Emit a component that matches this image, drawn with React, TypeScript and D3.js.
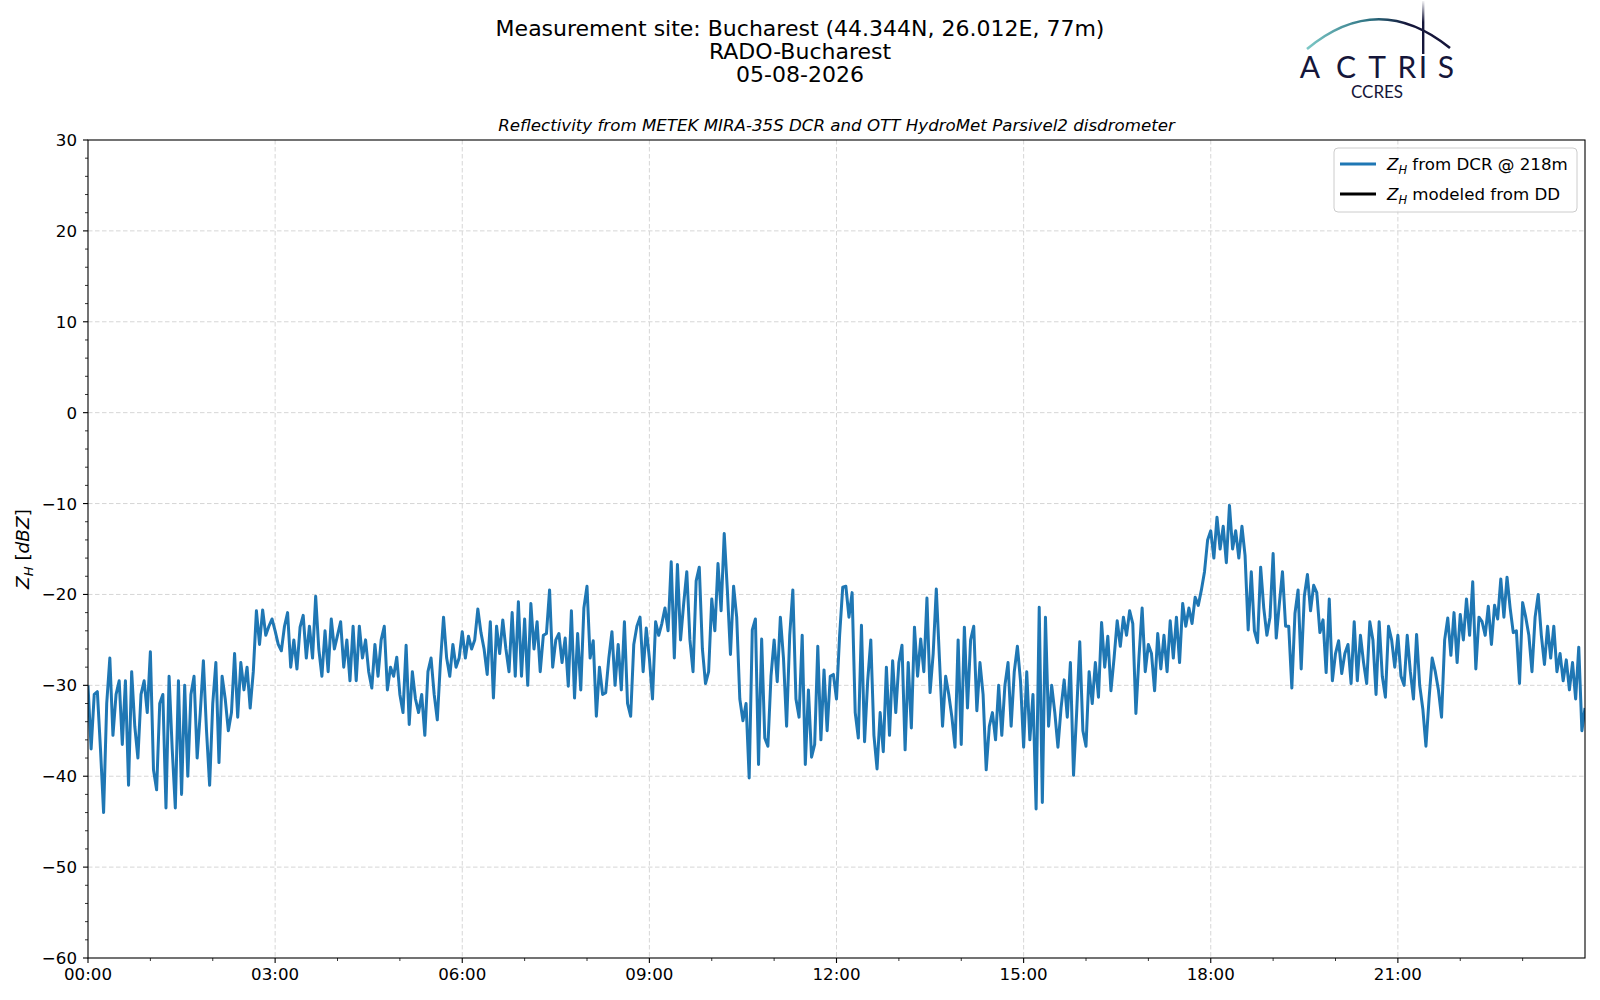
import * as d3 from "d3";

// measurement day (UTC) and sampling step of the DCR series
const day = Date.UTC(2026, 7, 5);
const stepMinutes = 3;

// Z_H from DCR @ 218m, dBZ, one value every 3 minutes
const zh00 = [
  -30, -37, -31, -30.7, -37, -44, -32, -27, -35.5, -31,
  -29.5, -36.5, -29.5, -41, -28.5, -34.5, -38, -31, -29.5, -33,
  -26.3, -39.3, -41.5, -32, -31, -43.5, -29, -37, -43.5, -29.5,
  -42, -30, -40, -31, -29, -38, -33, -27.3, -35, -41,
  -32, -27.5, -38.5, -29, -31.5, -35, -33, -26.5, -33.5, -27.5,
  -30.5, -28, -32.5, -28.5, -21.8, -25.5, -21.7, -24.5, -23.5, -22.7,
];
const zh03 = [
  -24, -25.5, -26.2, -23.5, -22, -28, -25, -28.2, -23.6, -22.3,
  -27, -23.5, -27, -20.2, -26, -29, -24, -28.5, -22.7, -26,
  -24.5, -23, -28, -25, -29.5, -23.5, -29.5, -23.5, -27, -25,
  -28.5, -30.3, -25.5, -29, -25, -23.5, -30.5, -28, -29, -26.9,
  -31, -33, -25.6, -34.3, -28.5, -31.5, -33, -31, -35.5, -28.5,
  -27, -31, -33.8, -27.5, -22.5, -27, -29, -25.5, -28, -27,
];
const zh06 = [
  -24.1, -27, -24.6, -26, -25, -21.6, -24.2, -26, -28.8, -23,
  -31.4, -23.5, -26.5, -22.8, -26, -28.5, -22, -29, -20.8, -29,
  -22.7, -30, -21, -26, -23, -28.5, -24.5, -24.3, -19.5, -28,
  -25, -24.3, -27.5, -24.8, -30.1, -21.8, -31.4, -24.3, -30.5, -21.5,
  -19.1, -27, -25.1, -33.4, -28, -31, -30.8, -27, -24.1, -30,
  -25.5, -30.5, -23, -32, -33.4, -25.5, -23.5, -22.5, -28.5, -23.7,
];
const zh09 = [
  -27, -31.5, -23, -24.5, -23.2, -21.5, -24, -16.4, -27, -16.7,
  -25, -21, -17.5, -25, -28.5, -18.5, -17, -26, -29.8, -28.5,
  -20.5, -24, -16.6, -21.8, -13.3, -19.5, -26.6, -19.1, -22.5, -31.5,
  -33.9, -32, -40.2, -23.9, -22.7, -38.7, -24.9, -35.8, -36.7, -29,
  -25, -29.6, -22.5, -27, -34.5, -24.5, -19.5, -31.5, -33.5, -24.5,
  -38.7, -30.5, -37.9, -36.5, -25.7, -36, -28.3, -35, -29, -28.8,
];
const zh12 = [
  -31.5, -24.5, -19.2, -19.1, -22.5, -19.8, -33, -35.8, -23.4, -36.2,
  -29.5, -25, -35.5, -39.2, -33, -37.3, -28, -35.5, -27.3, -33,
  -27.5, -25.6, -37.1, -27.5, -34.7, -23.6, -29, -24.9, -28.5, -20.4,
  -30.8, -26.5, -19.4, -27, -34.5, -29, -31, -33.5, -36.8, -25,
  -36.5, -23.6, -32.5, -25, -23.5, -32.8, -27.5, -31, -39.3, -34.5,
  -33, -36, -30, -35.5, -30, -27.5, -34.5, -28.5, -25.7, -29.5,
];
const zh15 = [
  -36.8, -28.5, -36, -31, -43.6, -21.4, -42.9, -22.5, -34.5, -30,
  -33, -36.8, -32.5, -29.4, -33.5, -27.5, -39.9, -33, -25.2, -35,
  -36.7, -28.5, -32, -27.5, -31.3, -23.1, -28, -24.6, -30.6, -27,
  -22.9, -25.7, -22.5, -24.5, -21.8, -23.2, -33.1, -26.8, -21.5, -28.5,
  -25.5, -26.5, -30.6, -24.3, -28.2, -24.5, -28.5, -22.9, -27, -22.5,
  -27.5, -21, -23.5, -21.5, -23.2, -20.3, -21.2, -19.5, -17.5, -14,
];
const zh18 = [
  -13, -16, -11.5, -15, -12.5, -16.5, -10.2, -15, -13, -16,
  -12.5, -15.7, -23.9, -17.5, -24, -25.3, -17, -21.5, -24.5, -22.5,
  -15.5, -24.8, -21, -17.5, -23.5, -23.5, -30.3, -22.1, -19.5, -28.2,
  -20.2, -17.8, -21.8, -19, -19.8, -24.2, -22.8, -28.6, -20.5, -29.5,
  -26.5, -25.1, -28.7, -26.5, -25.5, -29.8, -23, -29.5, -24.5, -27.5,
  -29.8, -23, -25, -31, -23, -29, -31.3, -23.5, -25, -28,
];
const zh21 = [
  -24.5, -29, -30, -24.5, -28.5, -31.5, -24.4, -30, -32.6, -36.7,
  -31.5, -27, -28.5, -30.5, -33.5, -25, -22.6, -26.7, -22, -27.5,
  -22.2, -25, -20.5, -24.5, -18.6, -28.2, -22.5, -23, -24.5, -21.3,
  -25.5, -21.2, -22.7, -18.3, -22.5, -18.1, -21.5, -24.2, -24, -29.8,
  -20.9, -22.5, -24.5, -28.5, -22.5, -20, -24.5, -27.7, -23.5, -27,
  -23.5, -28.5, -26.5, -29.5, -27.2, -30.5, -27.5, -31.5, -25.8, -35,
  -32.5,
];
const zhDcr = [...zh00, ...zh03, ...zh06, ...zh09, ...zh12, ...zh15, ...zh18, ...zh21];
// no disdrometer values on this day
const zhDd: number[] = [];

const yTicks = [30, 20, 10, 0, -10, -20, -30, -40, -50, -60];
const titleLines = [
  "Measurement site: Bucharest (44.344N, 26.012E, 77m)",
  "RADO-Bucharest",
  "05-08-2026",
];
const subtitle = "Reflectivity from METEK MIRA-35S DCR and OTT HydroMet Parsivel2 disdrometer";

const W = 1600;
const H = 1000;
const margin = { top: 140, right: 15, bottom: 42, left: 88 };
const font = "DejaVu Sans, sans-serif";
const fs = 16.67; // 12pt at 100 dpi
const navy = "#15163a";

const fmtMinus = (v: number) => (v < 0 ? "\u2212" + Math.abs(v) : String(v));

export default function App() {
  const x0 = margin.left;
  const x1 = W - margin.right;
  const y0 = margin.top;
  const y1 = H - margin.bottom;

  const start = new Date(day);
  const end = new Date(day + 24 * 3600e3);
  const xScale = d3.scaleUtc().domain([start, end]).range([x0, x1]);
  const yScale = d3.scaleLinear().domain([-60, 30]).range([y1, y0]);

  const xMajor = d3.utcHour.every(3)!.range(start, end);
  const xMinor = d3.utcHour.range(start, end).filter((d) => d.getUTCHours() % 3 !== 0);
  const yMinor = d3.range(-60, 30, 2).filter((v) => v % 10 !== 0);
  const fmtTime = d3.utcFormat("%H:%M");

  const timeAt = (i: number) => new Date(day + i * stepMinutes * 60e3);
  const line = d3
    .line<number>()
    .x((_, i) => xScale(timeAt(i)))
    .y((d) => yScale(d));

  const cx = (x0 + x1) / 2;

  return (
    <div style={{ position: "absolute", left: 0, top: 0, background: "#fff" }}>
      <svg width={W} height={H} style={{ display: "block" }} fontFamily={font}>
        <defs>
          <clipPath id="plot">
            <rect x={x0} y={y0} width={x1 - x0} height={y1 - y0} />
          </clipPath>
          <linearGradient id="arc" x1="0" x2="1" y1="0" y2="0">
            <stop offset="0" stopColor="#7cc8c6" />
            <stop offset="0.45" stopColor="#2b6f80" />
            <stop offset="0.7" stopColor="#15163a" />
            <stop offset="1" stopColor="#15163a" />
          </linearGradient>
          <linearGradient id="mast" x1="0" x2="0" y1="0" y2="1">
            <stop offset="0" stopColor="#15163a" stopOpacity="0.05" />
            <stop offset="0.4" stopColor="#15163a" />
            <stop offset="1" stopColor="#15163a" />
          </linearGradient>
        </defs>
        <rect width={W} height={H} fill="#fff" />

        {/* titles */}
        {titleLines.map((t, i) => (
          <text key={t} x={800} y={36 + i * 23} textAnchor="middle" fontSize={22}>
            {t}
          </text>
        ))}
        <text x={cx} y={131} textAnchor="middle" fontSize={fs} fontStyle="italic">
          {subtitle}
        </text>

        {/* logo */}
        <g>
          <path d="M1307,49 Q1378,-10 1450,48" fill="none" stroke="url(#arc)" strokeWidth={2.6} />
          <rect x={1422} y={1} width={2.4} height={53} fill="url(#mast)" />
          <text
            x="1310 1346 1377 1407 1423 1446"
            y={78}
            textAnchor="middle"
            fontFamily="Lato, Open Sans, sans-serif"
            fontSize={30}
            fill={navy}
          >
            ACTRIS
          </text>
          <text x={1377} y={98} textAnchor="middle" fontFamily="Lato, Open Sans, sans-serif" fontSize={17} fill={navy}>
            CCRES
          </text>
        </g>

        {/* grid */}
        <g stroke="#d6d6d6" strokeWidth={1} strokeDasharray="4.5,2.5">
          {xMajor.slice(1).map((d) => (
            <line key={+d} x1={xScale(d)} x2={xScale(d)} y1={y0} y2={y1} />
          ))}
          {yTicks.slice(1, -1).map((v) => (
            <line key={v} x1={x0} x2={x1} y1={yScale(v)} y2={yScale(v)} />
          ))}
        </g>

        {/* series */}
        <g clipPath="url(#plot)">
          <path d={line(zhDcr) ?? ""} fill="none" stroke="#1f77b4" strokeWidth={3} strokeLinejoin="round" />
          {zhDd.length > 0 && <path d={line(zhDd) ?? ""} fill="none" stroke="#000" strokeWidth={3} />}
        </g>

        {/* frame */}
        <rect x={x0} y={y0} width={x1 - x0} height={y1 - y0} fill="none" stroke="#000" strokeWidth={1.1} />

        {/* y axis */}
        <g stroke="#000" strokeWidth={1.1}>
          {yTicks.map((v) => (
            <line key={v} x1={x0 - 5} x2={x0} y1={yScale(v)} y2={yScale(v)} />
          ))}
          {yMinor.map((v) => (
            <line key={v} x1={x0 - 3} x2={x0} y1={yScale(v)} y2={yScale(v)} strokeWidth={0.8} />
          ))}
        </g>
        {yTicks.map((v) => (
          <text key={v} x={x0 - 11} y={yScale(v) + 6} textAnchor="end" fontSize={fs}>
            {fmtMinus(v)}
          </text>
        ))}

        {/* x axis */}
        <g stroke="#000" strokeWidth={1.1}>
          {xMajor.map((d) => (
            <line key={+d} x1={xScale(d)} x2={xScale(d)} y1={y1} y2={y1 + 5} />
          ))}
          {xMinor.map((d) => (
            <line key={+d} x1={xScale(d)} x2={xScale(d)} y1={y1} y2={y1 + 3} strokeWidth={0.8} />
          ))}
        </g>
        {xMajor.map((d) => (
          <text key={+d} x={xScale(d)} y={y1 + 22} textAnchor="middle" fontSize={fs}>
            {fmtTime(d)}
          </text>
        ))}

        {/* y label */}
        <text transform={`translate(29,${(y0 + y1) / 2}) rotate(-90)`} textAnchor="middle" fontSize={18.5}>
          <tspan fontStyle="italic">Z</tspan>
          <tspan fontStyle="italic" fontSize={13} dy={4}>H</tspan>
          <tspan dy={-4}> [</tspan>
          <tspan fontStyle="italic">dBZ</tspan>
          <tspan>]</tspan>
        </text>

        {/* legend */}
        <g>
          <rect x={1334} y={148} width={243} height={64} rx={4} fill="#fff" fillOpacity={0.8} stroke="#cccccc" />
          <line x1={1340} x2={1376} y1={164} y2={164} stroke="#1f77b4" strokeWidth={2.8} />
          <line x1={1340} x2={1376} y1={194} y2={194} stroke="#000" strokeWidth={2.8} />
          <text x={1387} y={170} fontSize={fs}>
            <tspan fontStyle="italic">Z</tspan>
            <tspan fontStyle="italic" fontSize={11.5} dy={3.5}>H</tspan>
            <tspan dy={-3.5}> from DCR @ 218m</tspan>
          </text>
          <text x={1387} y={200} fontSize={fs}>
            <tspan fontStyle="italic">Z</tspan>
            <tspan fontStyle="italic" fontSize={11.5} dy={3.5}>H</tspan>
            <tspan dy={-3.5}> modeled from DD</tspan>
          </text>
        </g>
      </svg>
    </div>
  );
}
